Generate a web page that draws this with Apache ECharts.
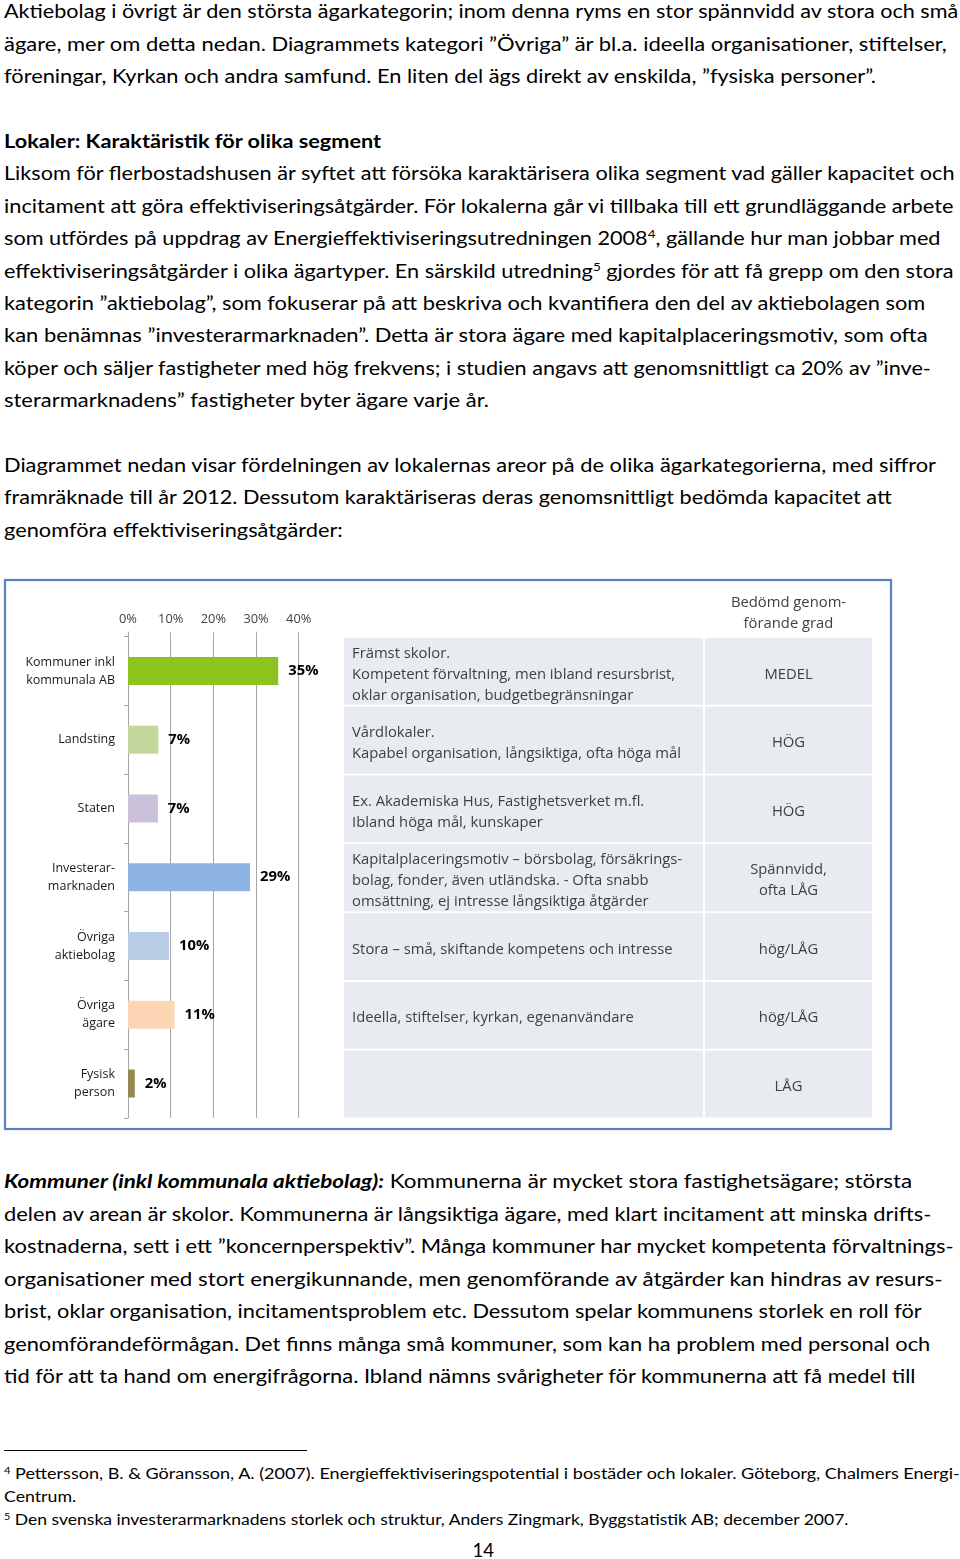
<!DOCTYPE html>
<html>
<head>
<meta charset="utf-8">
<script src="https://cdn.jsdelivr.net/npm/echarts@6/dist/echarts.min.js"></script>
<style>
  html, body { margin: 0; padding: 0; background: #fff; }
  body { width: 960px; height: 1559px; position: relative; overflow: hidden; }
  .t { position: absolute; left: 4px; white-space: nowrap; font-family: Lato, "Open Sans", sans-serif;
       font-size: 18.5px; line-height: 1.2; color: #000; transform-origin: 0 0; }
  .t.fn { font-size: 14.5px; }
  .t sup { font-size: 0.62em; vertical-align: 0; position: relative; top: -0.6em; line-height: 0; }
  .bl { display: inline-block; width: 0; height: 0; vertical-align: baseline; }
  #rule { position: absolute; left: 4px; top: 1450px; width: 303px; height: 1px; background: #000; }
  #chart { position: absolute; left: 0; top: 575px; width: 900px; height: 565px; }
</style>
</head>
<body>
<div class="t" data-b="18" data-r="958">Aktiebolag i övrigt är den största ägarkategorin; inom denna ryms en stor spännvidd av stora och små</div>
<div class="t" data-b="50.5" data-r="947">ägare, mer om detta nedan. Diagrammets kategori ”Övriga” är bl.a. ideella organisationer, stiftelser,</div>
<div class="t" data-b="83" data-r="876">föreningar, Kyrkan och andra samfund. En liten del ägs direkt av enskilda, ”fysiska personer”.</div>

<div class="t" data-b="148" data-r="381"><b>Lokaler: Karaktäristik för olika segment</b></div>
<div class="t" data-b="180.4" data-r="954">Liksom för flerbostadshusen är syftet att försöka karaktärisera olika segment vad gäller kapacitet och</div>
<div class="t" data-b="212.8" data-r="953">incitament att göra effektiviseringsåtgärder. För lokalerna går vi tillbaka till ett grundläggande arbete</div>
<div class="t" data-b="245.2" data-r="941">som utfördes på uppdrag av Energieffektiviseringsutredningen 2008<sup>4</sup>, gällande hur man jobbar med</div>
<div class="t" data-b="277.6" data-r="953">effektiviseringsåtgärder i olika ägartyper. En särskild utredning<sup>5</sup> gjordes för att få grepp om den stora</div>
<div class="t" data-b="310" data-r="925">kategorin ”aktiebolag”, som fokuserar på att beskriva och kvantifiera den del av aktiebolagen som</div>
<div class="t" data-b="342.4" data-r="928">kan benämnas ”investerarmarknaden”. Detta är stora ägare med kapitalplaceringsmotiv, som ofta</div>
<div class="t" data-b="374.8" data-r="931">köper och säljer fastigheter med hög frekvens; i studien angavs att genomsnittligt ca 20% av ”inve-</div>
<div class="t" data-b="407.2" data-r="489">sterarmarknadens” fastigheter byter ägare varje år.</div>

<div class="t" data-b="471.5" data-r="936">Diagrammet nedan visar fördelningen av lokalernas areor på de olika ägarkategorierna, med siffror</div>
<div class="t" data-b="504" data-r="892">framräknade till år 2012. Dessutom karaktäriseras deras genomsnittligt bedömda kapacitet att</div>
<div class="t" data-b="536.5" data-r="343">genomföra effektiviseringsåtgärder:</div>

<div id="chart"></div>

<div class="t" data-b="1188" data-r="912"><b><i>Kommuner (inkl kommunala aktiebolag):</i></b> Kommunerna är mycket stora fastighetsägare; största</div>
<div class="t" data-b="1220.5" data-r="931">delen av arean är skolor. Kommunerna är långsiktiga ägare, med klart incitament att minska drifts-</div>
<div class="t" data-b="1253" data-r="953">kostnaderna, sett i ett ”koncernperspektiv”. Många kommuner har mycket kompetenta förvaltnings-</div>
<div class="t" data-b="1285.5" data-r="943">organisationer med stort energikunnande, men genomförande av åtgärder kan hindras av resurs-</div>
<div class="t" data-b="1318" data-r="922">brist, oklar organisation, incitamentsproblem etc. Dessutom spelar kommunens storlek en roll för</div>
<div class="t" data-b="1350.5" data-r="930">genomförandeförmågan. Det finns många små kommuner, som kan ha problem med personal och</div>
<div class="t" data-b="1383" data-r="916">tid för att ta hand om energifrågorna. Ibland nämns svårigheter för kommunerna att få medel till</div>

<div id="rule"></div>
<div class="t fn" data-b="1479" data-r="960"><sup>4</sup> Pettersson, B. &amp; Göransson, A. (2007). Energieffektiviseringspotential i bostäder och lokaler. Göteborg, Chalmers Energi-</div>
<div class="t fn" data-b="1502" data-r="76">Centrum.</div>
<div class="t fn" data-b="1525" data-r="849"><sup>5</sup> Den svenska investerarmarknadens storlek och struktur, Anders Zingmark, Byggstatistik AB; december 2007.</div>
<div class="t" data-b="1557" data-c="483">14</div>

<script>
// ---- chart data ----
const categories = ['Kommuner inkl\nkommunala AB', 'Landsting', 'Staten', 'Investerar-\nmarknaden',
                    'Övriga\naktiebolag', 'Övriga\nägare', 'Fysisk\nperson'];
const shares = [35.2, 7.1, 7.0, 28.6, 9.6, 10.9, 1.6];          // % of floor area
const axisTicks = [0, 10, 20, 30, 40];                            // % tick labels
const descriptions = [
  'Främst skolor.\nKompetent förvaltning, men ibland resursbrist,\noklar organisation, budgetbegränsningar',
  'Vårdlokaler.\nKapabel organisation, långsiktiga, ofta höga mål',
  'Ex. Akademiska Hus, Fastighetsverket m.fl.\nIbland höga mål, kunskaper',
  'Kapitalplaceringsmotiv – börsbolag, försäkrings-\nbolag, fonder, även utländska. - Ofta snabb\nomsättning, ej intresse långsiktiga åtgärder',
  'Stora – små, skiftande kompetens och intresse',
  'Ideella, stiftelser, kyrkan, egenanvändare',
  ''
];
const ratings = ['MEDEL', 'HÖG', 'HÖG', 'Spännvidd,\nofta LÅG', 'hög/LÅG', 'hög/LÅG', 'LÅG'];
const ratingHeader = 'Bedömd genom-\nförande grad';
const barColors = ['#8DC21F', '#C3D69B', '#CCC1DA', '#8EB4E3', '#B9CDE5', '#FCD5B5', '#948A54'];

// ---- page text layout ----
document.querySelectorAll('.t').forEach(el => {
  const m = document.createElement('span'); m.className = 'bl'; el.appendChild(m);
});
document.querySelectorAll('.t').forEach(el => {
  const m = el.querySelector('.bl');
  const off = m.offsetTop;
  el.style.top = (parseFloat(el.dataset.b) - off) + 'px';
  const w = el.offsetWidth;
  if (el.dataset.r) {
    const s = (parseFloat(el.dataset.r) - 4) / w;
    el.style.transform = 'scaleX(' + s + ')';
  } else if (el.dataset.c) {
    el.style.left = (parseFloat(el.dataset.c) - w / 2) + 'px';
  }
});

// ---- chart ----
const FONT = '"Open Sans", Lato, sans-serif';
const chart = echarts.init(document.getElementById('chart'), null, { renderer: 'canvas' });
const GRID_LEFT = 128, GRID_TOP = 61.6, GRID_W = 170.7, GRID_H = 481.3;
const TBL_L = 344, TBL_LW = 359, TBL_R = 705, TBL_RW = 167;
const TXT = '14.8px ' + FONT;

chart.setOption({
  animation: false,
  backgroundColor: '#fff',
  graphic: [
    { type: 'rect', shape: { x: 5, y: 5, width: 886, height: 549 }, silent: true, z: -10,
      style: { fill: '#fff', stroke: '#5A82BC', lineWidth: 2, shadowBlur: 2, shadowColor: 'rgba(90,130,188,0.35)' } },
    { type: 'text', x: TBL_R + TBL_RW / 2, y: 38, silent: true,
      style: { text: ratingHeader, align: 'center', verticalAlign: 'middle', font: TXT,
               lineHeight: 21, fill: '#404040' } }
  ],
  grid: { left: GRID_LEFT, top: GRID_TOP, width: GRID_W, height: GRID_H, containLabel: false },
  xAxis: {
    type: 'value', position: 'top', min: axisTicks[0], max: axisTicks[axisTicks.length - 1],
    interval: axisTicks[1] - axisTicks[0],
    axisLine: { show: false },
    axisTick: { show: true, length: 5, lineStyle: { color: '#A6A6A6' } },
    splitLine: { show: true, lineStyle: { color: '#A6A6A6', width: 1 } },
    axisLabel: { formatter: '{value}%', color: '#404040', fontFamily: FONT, fontSize: 12.8, margin: 11 }
  },
  yAxis: {
    type: 'category', data: categories, inverse: true,
    axisLine: { show: true, lineStyle: { color: '#A6A6A6' } },
    axisTick: { show: true, length: 4, alignWithLabel: false, lineStyle: { color: '#A6A6A6' } },
    axisLabel: { color: '#1a1a1a', fontFamily: FONT, fontSize: 12.5, lineHeight: 18, margin: 13, align: 'right' }
  },
  series: [
    {
      type: 'bar', barWidth: 28,
      data: shares.map((v, i) => ({ value: v, itemStyle: { color: barColors[i] } })),
      label: { show: true, position: 'right', distance: 10, color: '#000', fontWeight: 'bold',
               fontFamily: FONT, fontSize: 14.8, formatter: p => Math.round(p.value) + '%' }
    },
    {
      type: 'custom', clip: false, silent: true,
      data: categories.map((c, i) => [0, i]),
      encode: { x: 0, y: 1 },
      renderItem: (params, api) => {
        const i = params.dataIndex;
        const c = api.coord([0, i]);
        const band = api.size([0, 1])[1];
        const top = c[1] - band / 2 + 1.5, h = band - 2;
        const cy = top + h / 2 + 3;
        return {
          type: 'group',
          children: [
            { type: 'rect', shape: { x: TBL_L, y: top, width: TBL_LW, height: h }, style: { fill: '#E8EBEF' } },
            { type: 'rect', shape: { x: TBL_R, y: top, width: TBL_RW, height: h }, style: { fill: '#E8EBEF' } },
            { type: 'text', style: { text: descriptions[i], x: TBL_L + 8, y: cy, align: 'left', verticalAlign: 'middle',
                                     font: TXT, lineHeight: 21, fill: '#404040' } },
            { type: 'text', style: { text: ratings[i], x: TBL_R + TBL_RW / 2, y: cy, align: 'center', verticalAlign: 'middle',
                                     font: TXT, lineHeight: 21, fill: '#404040' } }
          ]
        };
      }
    }
  ]
});
</script>
</body>
</html>
